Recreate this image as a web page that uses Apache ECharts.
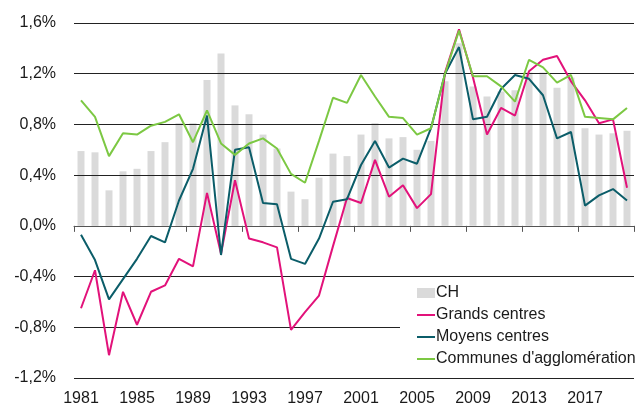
<!DOCTYPE html>
<html>
<head>
<meta charset="utf-8">
<title>Croissance démographique</title>
<script src="https://cdn.jsdelivr.net/npm/echarts@6/dist/echarts.min.js"></script>
<style>
    html, body { margin: 0; padding: 0; background: #fff; }
    #chart { width: 641px; height: 407px; }
</style>
</head>
<body>
<div id="chart"></div>
<script>
// années
const years = [];
for (let y = 1981; y <= 2020; y++) years.push(String(y));

// Suisse (barres)
const chValues = [0.59, 0.58, 0.28, 0.43, 0.45, 0.59, 0.66, 0.81, 0.81, 1.15,
    1.36, 0.95, 0.88, 0.72, 0.61, 0.27, 0.21, 0.38, 0.57, 0.55,
    0.72, 0.81, 0.69, 0.70, 0.60, 0.67, 1.14, 1.44, 1.10, 1.02,
    1.06, 1.07, 1.21, 1.21, 1.09, 1.17, 0.77, 0.72, 0.73, 0.75];

const grandsCentres = [-0.65, -0.35, -1.02, -0.52, -0.78, -0.52, -0.47, -0.26, -0.32, 0.26,
    -0.22, 0.36, -0.10, -0.13, -0.17, -0.82, -0.68, -0.55, -0.16, 0.22,
    0.18, 0.52, 0.23, 0.32, 0.14, 0.25, 1.21, 1.55, 1.17, 0.72,
    0.93, 0.87, 1.22, 1.31, 1.34, 1.14, 0.99, 0.81, 0.84, 0.30];

const moyensCentres = [-0.07, -0.27, -0.58, -0.42, -0.26, -0.08, -0.13, 0.20, 0.45, 0.87,
    -0.23, 0.60, 0.62, 0.18, 0.17, -0.26, -0.30, -0.10, 0.19, 0.21,
    0.48, 0.67, 0.46, 0.53, 0.49, 0.77, 1.20, 1.41, 0.84, 0.86,
    1.08, 1.19, 1.16, 1.03, 0.69, 0.74, 0.16, 0.24, 0.29, 0.20];

const communesAgglo = [0.99, 0.86, 0.55, 0.73, 0.72, 0.79, 0.82, 0.88, 0.66, 0.91,
    0.65, 0.56, 0.65, 0.69, 0.61, 0.41, 0.34, 0.67, 1.01, 0.97,
    1.19, 1.02, 0.86, 0.85, 0.72, 0.77, 1.20, 1.54, 1.18, 1.18,
    1.10, 0.98, 1.31, 1.25, 1.13, 1.19, 0.86, 0.85, 0.84, 0.93];

const seriesNames = ['CH', 'Grands centres', 'Moyens centres', "Communes d'agglomération"];

document.addEventListener('DOMContentLoaded', function() {
    const font = 'Liberation Sans, Arial, sans-serif';
    const textColor = '#1a1a1a';
    // trait fin pour la légende (les points aux coins gardent la boîte 18x10)
    const lineIcon = 'path://M0,4.1h18v1.8h-18z M0,0h0.01v0.01h-0.01z M17.99,9.99h0.01v0.01h-0.01z';

    function lineSeries(name, data, color) {
        return {
            name: name,
            type: 'line',
            data: data,
            symbol: 'none',
            z: 3,
            lineStyle: { width: 2, color: color },
            itemStyle: { color: color }
        };
    }

    const option = {
        animation: false,
        grid: { left: 74, right: 7, top: 23, bottom: 29 },
        legend: {
            orient: 'vertical',
            left: 400,
            top: 282,
            padding: [3, 6, 3, 17],
            backgroundColor: '#fff',
            itemWidth: 18,
            itemHeight: 10,
            itemGap: 6,
            textStyle: { fontFamily: font, fontSize: 16, color: textColor, lineHeight: 16, padding: [0, 0, 0, -4] },
            data: [
                { name: seriesNames[0], icon: 'rect' },
                { name: seriesNames[1], icon: lineIcon },
                { name: seriesNames[2], icon: lineIcon },
                { name: seriesNames[3], icon: lineIcon }
            ]
        },
        xAxis: [
            {
                type: 'category',
                data: years,
                position: 'bottom',
                z: 1.5,
                axisLine: { onZero: true, lineStyle: { color: '#555', width: 1 } },
                axisTick: { show: true, interval: 3, length: 6, lineStyle: { color: '#555' } },
                axisLabel: { show: false },
                splitLine: { show: false }
            },
            {
                type: 'category',
                data: years,
                position: 'bottom',
                axisLine: { show: false, onZero: false },
                axisTick: { show: false },
                axisLabel: {
                    interval: 3,
                    margin: 13,
                    fontFamily: font,
                    fontSize: 16,
                    color: textColor
                },
                splitLine: { show: false }
            }
        ],
        yAxis: {
            type: 'value',
            min: -1.2,
            max: 1.6,
            interval: 0.4,
            z: 1.5,
            axisLine: { show: false },
            axisTick: { show: false },
            axisLabel: {
                margin: 18,
                fontFamily: font,
                fontSize: 16,
                color: textColor,
                formatter: function(v) {
                    if (Math.abs(v) < 1e-9) v = 0;
                    return v.toFixed(1).replace('.', ',') + '%';
                }
            },
            splitLine: { lineStyle: { color: '#222', width: 1 } }
        },
        series: [
            {
                name: seriesNames[0],
                type: 'bar',
                data: chValues,
                barWidth: 7,
                z: 1,
                itemStyle: { color: '#dadada' }
            },
            lineSeries(seriesNames[1], grandsCentres, '#e2127a'),
            lineSeries(seriesNames[2], moyensCentres, '#0b5d69'),
            lineSeries(seriesNames[3], communesAgglo, '#7cc843')
        ]
    };

    const chart = echarts.init(document.getElementById('chart'));
    chart.setOption(option);

    window.addEventListener('resize', function() {
        chart.resize();
    });
});
</script>
</body>
</html>
